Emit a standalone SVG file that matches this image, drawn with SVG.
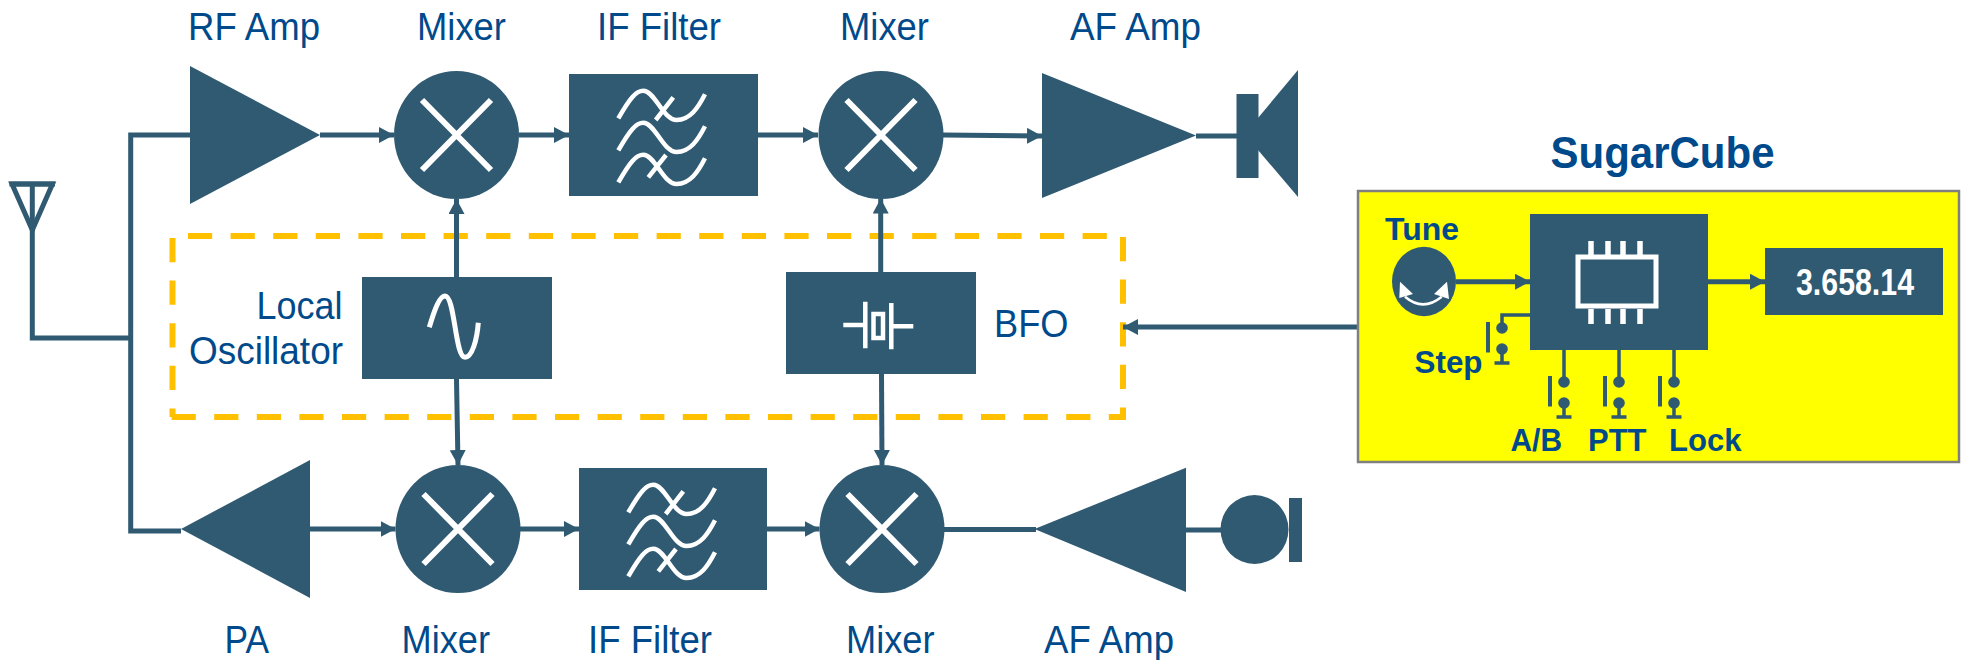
<svg xmlns="http://www.w3.org/2000/svg" width="1964" height="660" viewBox="0 0 1964 660">
<style>
.f{fill:#2f5a72}
.t{font-family:"Liberation Sans",Arial,sans-serif;font-size:38px;fill:#004a8b}
.b{font-family:"Liberation Sans",Arial,sans-serif;font-weight:700;font-size:32px;fill:#004a8b}
.w{fill:none;stroke:#2f5a72;stroke-width:5}
.a{marker-end:url(#ah)}
.s{fill:none;stroke:#fff;stroke-width:5}
.n{fill:none;stroke:#2f5a72;stroke-width:3.5}
.d{fill:none;stroke:#ffc000;stroke-width:6;stroke-dasharray:24.2 18.4}
</style>
<defs>
<marker id="ah" markerUnits="userSpaceOnUse" markerWidth="16" markerHeight="18" refX="15" refY="8" orient="auto"><path d="M0 0L15 8L0 16Z" fill="#2f5a72"/></marker>
<g id="mix"><ellipse rx="62.5" ry="64" class="f"/><path d="M-34.500 -35L34.500 35M34.500 -35L-34.500 35" class="s" style="stroke-width:6"/></g>
<g id="waves" class="s" style="stroke-width:4.500">
<path d="M618.300 118.300C630 98 636 90.700 643.300 90.700C655 90.700 663 120 676.700 120C690 120 698 108 705 94.300"/>
<path d="M618.300 150.300C630 130 636 122.700 643.300 122.700C655 122.700 663 152 676.700 152C690 152 698 140 705 126.300"/>
<path d="M618.300 182.300C630 162 636 154.700 643.300 154.700C655 154.700 663 184 676.700 184C690 184 698 172 705 158.300"/>
<path d="M655.700 120L673.300 97.300M648.300 177.300L666 155"/>
</g>
<g id="sw"><circle cy="0" r="5.800" class="f"/><circle cy="21" r="5.800" class="f"/><path d="M0 21V35M-7.500 35H7.500" class="n"/><path d="M-14 -6V24.500" class="n" style="stroke-width:4"/></g>
</defs>

<g id="dashed-box">
<path class="d" d="M188 236H1107"/>
<path class="d" d="M1123 237V417"/>
<path class="d" style="stroke-dashoffset:7" d="M1126 417H169.500"/>
<path class="d" d="M172.500 238V417"/>
</g>

<g id="connectors">
<path class="w" d="M190 135H130.700V531H181"/>
<path class="w" d="M32.300 232V338H130.700"/>
<path class="w a" d="M320 135H394"/>
<path class="w a" d="M519 135H569"/>
<path class="w a" d="M758 135H818"/>
<path class="w a" d="M943 135L1042 136"/>
<path class="w" d="M1196 136H1237"/>
<path class="w a" d="M456.500 277V199"/>
<path class="w a" d="M456.500 379L458 465"/>
<path class="w a" d="M880.700 272V198.500"/>
<path class="w a" d="M881.500 374L882 465"/>
<path class="w a" d="M310 529H395.500"/>
<path class="w a" d="M520 529H579"/>
<path class="w a" d="M767 529H819.500"/>
<path class="w" d="M944 529.500H1036"/>
<path class="w" d="M1186 530H1222"/>
<path class="w a" d="M1358 327H1123"/>
</g>

<g id="antenna"><path d="M12 184H52.500L32.300 230Z" fill="none" stroke="#2f5a72" stroke-width="5"/><path d="M9.500 184H55M32.300 184V232" class="w"/></g>

<g id="rf-amp"><path class="f" d="M190 66V204L320 135Z"/><text class="t" x="188" y="39.500" textLength="132" lengthAdjust="spacingAndGlyphs">RF Amp</text></g>
<g id="mixer-1"><use href="#mix" x="456.500" y="135"/><text class="t" x="417" y="39.500" textLength="89" lengthAdjust="spacingAndGlyphs">Mixer</text></g>
<g id="if-filter-1"><rect class="f" x="569" y="74" width="189" height="122"/><use href="#waves"/><text class="t" x="597" y="39.500" textLength="124" lengthAdjust="spacingAndGlyphs">IF Filter</text></g>
<g id="mixer-2"><use href="#mix" x="881" y="135"/><text class="t" x="840" y="39.500" textLength="89" lengthAdjust="spacingAndGlyphs">Mixer</text></g>
<g id="af-amp-1"><path class="f" d="M1042 73V198L1196 135.500Z"/><text class="t" x="1070" y="39.500" textLength="131" lengthAdjust="spacingAndGlyphs">AF Amp</text></g>
<g id="speaker"><rect class="f" x="1236.500" y="94" width="22" height="84"/><path class="f" d="M1258 118L1298 70V197L1258 150Z"/></g>

<g id="local-oscillator"><rect class="f" x="362" y="277" width="190" height="102"/><path class="s" d="M429.300 327.300C435 308 440 296 445 296C455 296 455 357.300 465 357.300C472 357.300 477 340 478.300 322.700"/><text class="t" x="256.600" y="319" textLength="86" lengthAdjust="spacingAndGlyphs">Local</text><text class="t" x="189" y="364.300" textLength="154" lengthAdjust="spacingAndGlyphs">Oscillator</text></g>
<g id="bfo"><rect class="f" x="786" y="272" width="190" height="102"/><path class="s" style="stroke-width:4.500" d="M843.300 325H865M865.300 301.700V348.300M873.500 314H883V338H873.500ZM891.300 303V349.300M891 326.300H913.300"/><text class="t" x="994" y="337" textLength="74.500" lengthAdjust="spacingAndGlyphs">BFO</text></g>

<g id="pa"><path class="f" d="M181 529L310 460V598Z"/><text class="t" x="224.500" y="652.700" textLength="44.500" lengthAdjust="spacingAndGlyphs">PA</text></g>
<g id="mixer-3"><use href="#mix" x="458" y="529"/><text class="t" x="401.500" y="652.700" textLength="88.500" lengthAdjust="spacingAndGlyphs">Mixer</text></g>
<g id="if-filter-2"><rect class="f" x="579" y="468" width="188" height="122"/><use href="#waves" x="10" y="394"/><text class="t" x="588" y="652.700" textLength="124" lengthAdjust="spacingAndGlyphs">IF Filter</text></g>
<g id="mixer-4"><use href="#mix" x="882" y="529"/><text class="t" x="846" y="652.700" textLength="88.500" lengthAdjust="spacingAndGlyphs">Mixer</text></g>
<g id="af-amp-2"><path class="f" d="M1034.500 529L1186 467.700V592Z"/><text class="t" x="1044" y="652.700" textLength="130" lengthAdjust="spacingAndGlyphs">AF Amp</text></g>
<g id="microphone"><ellipse class="f" cx="1254.500" cy="529.500" rx="34" ry="34.500"/><rect class="f" x="1289" y="498" width="13" height="64"/></g>

<g id="sugarcube">
<text x="1550.500" y="168" class="b" style="font-size:44px" textLength="224" lengthAdjust="spacingAndGlyphs">SugarCube</text>
<rect x="1358" y="191" width="601" height="271" fill="#ffff00" stroke="#7f7f7f" stroke-width="2.500"/>
</g>
<g id="sugarcube-links">
<path class="w a" d="M1456 281.700H1530"/>
<path class="w a" d="M1708 281.700H1765"/>
<path class="n" d="M1530 315H1502V323"/>
<path class="n" d="M1564 349V377M1619 349V377M1674 349V377"/>
</g>
<g id="tune"><ellipse class="f" cx="1424" cy="281.500" rx="32" ry="34.700"/><path d="M1405 296.700Q1423 312 1441.700 296.700" fill="none" stroke="#fff" stroke-width="2.500"/><path fill="#fff" d="M1400 281.700L1399.300 298L1413 294ZM1447 281.700L1449 299L1434 294Z"/><text class="b" x="1385" y="240" textLength="74" lengthAdjust="spacingAndGlyphs">Tune</text></g>
<g id="mcu"><rect class="f" x="1530" y="214" width="178" height="136"/><rect x="1578" y="257" width="78" height="49" fill="none" stroke="#fff" stroke-width="5"/><path class="s" style="stroke-width:5.500" d="M1591 241V255M1608 241V255M1623 241V255M1640 241V255M1591 309V324M1608 309V324M1623 309V324M1640 309V324"/></g>
<g id="display"><rect class="f" x="1765" y="248" width="178" height="67"/><text class="b" x="1796" y="295" textLength="118" lengthAdjust="spacingAndGlyphs" style="font-size:36px;fill:#fff">3.658.14</text></g>
<g id="step"><use href="#sw" x="1502" y="328"/><text class="b" x="1414.500" y="373" textLength="68" lengthAdjust="spacingAndGlyphs">Step</text></g>
<g id="ab"><use href="#sw" x="1564" y="382"/><text class="b" x="1510.500" y="451" textLength="51.500" lengthAdjust="spacingAndGlyphs">A/B</text></g>
<g id="ptt"><use href="#sw" x="1619" y="382"/><text class="b" x="1588" y="451" textLength="58.500" lengthAdjust="spacingAndGlyphs">PTT</text></g>
<g id="lock"><use href="#sw" x="1674" y="382"/><text class="b" x="1669" y="451" textLength="72.500" lengthAdjust="spacingAndGlyphs">Lock</text></g>
</svg>
